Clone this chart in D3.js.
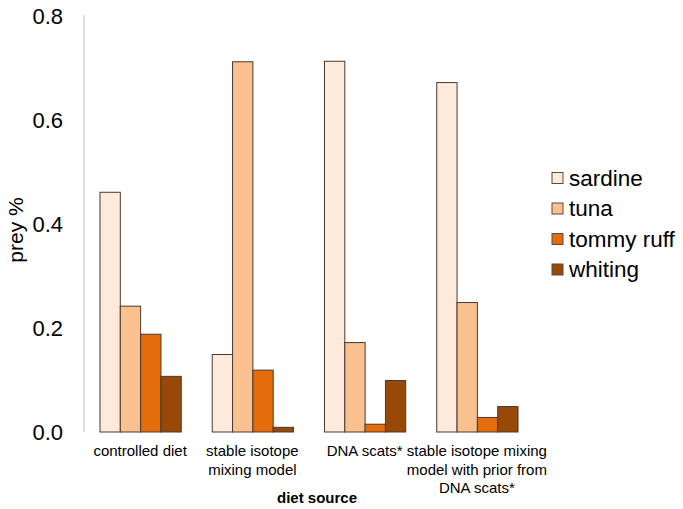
<!DOCTYPE html>
<html><head><meta charset="utf-8">
<script src="https://cdn.jsdelivr.net/npm/d3@7"></script>
<style>body{margin:0;background:#fff}svg{display:block;font-family:"Liberation Sans",Arial,sans-serif}</style>
</head><body>
<svg id="c" width="683" height="509"></svg>
<script>
const categories = [
  ["controlled diet"],
  ["stable isotope", "mixing model"],
  ["DNA scats*"],
  ["stable isotope mixing", "model with prior from", "DNA scats*"]
];
const seriesNames = ["sardine", "tuna", "tommy ruff", "whiting"];
const sardine   = [0.461, 0.149, 0.713, 0.672];
const tuna      = [0.242, 0.712, 0.172, 0.249];
const tommyRuff = [0.188, 0.119, 0.015, 0.028];
const whiting   = [0.107, 0.009, 0.099, 0.049];
const yTicks = [0.0, 0.2, 0.4, 0.6, 0.8];
const colors = ["#FDEADA", "#FAC090", "#E46C0A", "#984807"];

(function () {
const series = [sardine, tuna, tommyRuff, whiting];
const svg = d3.select("#c");
const pLeft = 84, pRight = 533, pTop = 16, pBottom = 432;

const y = d3.scaleLinear().domain([0, 0.8]).range([pBottom, pTop]);
const x0 = d3.scaleBand().domain(d3.range(categories.length)).range([pLeft, pRight])
  .paddingInner(0.276).paddingOuter(0.138);
const x1 = d3.scaleBand().domain(d3.range(seriesNames.length)).range([0, x0.bandwidth()]);

// y axis line
svg.append("line").attr("x1", pLeft).attr("x2", pLeft).attr("y1", 15).attr("y2", pBottom)
  .attr("stroke", "#c8c8c8").attr("stroke-width", 1.2);

// y tick labels
const yAxis = d3.axisLeft(y).tickValues(yTicks).tickFormat(d3.format(".1f")).tickSize(0).tickPadding(21);
const ya = svg.append("g").attr("transform", `translate(${pLeft},0)`).call(yAxis);
ya.select(".domain").remove();
ya.selectAll("text").attr("font-size", 22).attr("fill", "#000")
  .attr("font-family", "'Liberation Sans',Arial,sans-serif");

// bars
const groups = svg.append("g").selectAll("g").data(categories).join("g")
  .attr("transform", (d, i) => `translate(${x0(i)},0)`);
groups.selectAll("rect").data((d, i) => series.map((s, j) => ({j, v: s[i]}))).join("rect")
  .attr("x", d => x1(d.j) + 0.5)
  .attr("y", d => y(d.v))
  .attr("width", x1.bandwidth())
  .attr("height", d => pBottom - y(d.v))
  .attr("fill", d => colors[d.j])
  .attr("stroke", "#4a3a2e").attr("stroke-width", 1);

// x category labels
categories.forEach((lines, i) => {
  const cx = x0(i) + x0.bandwidth() / 2;
  const t = svg.append("text").attr("text-anchor", "middle").attr("font-size", 15).attr("fill", "#000");
  lines.forEach((ln, k) => {
    t.append("tspan").attr("x", cx).attr("y", 456 + k * 18.5).text(ln);
  });
});

// x axis title
svg.append("text").attr("x", 317).attr("y", 503).attr("text-anchor", "middle")
  .attr("font-size", 15).attr("font-weight", "bold").text("diet source");

// y axis title
svg.append("text").attr("transform", "translate(23,230) rotate(-90)")
  .attr("text-anchor", "middle").attr("font-size", 21).text("prey %");

// legend
const lg = svg.append("g");
seriesNames.forEach((n, i) => {
  const cy = 178 + i * 30.5;
  lg.append("rect").attr("x", 552).attr("y", cy - 5.5).attr("width", 11).attr("height", 11)
    .attr("fill", colors[i]).attr("stroke", "#5a4a3e").attr("stroke-width", 1);
  lg.append("text").attr("x", 569).attr("y", cy + 7.5).attr("font-size", 22.5).text(n);
});
})();
</script>
</body></html>
